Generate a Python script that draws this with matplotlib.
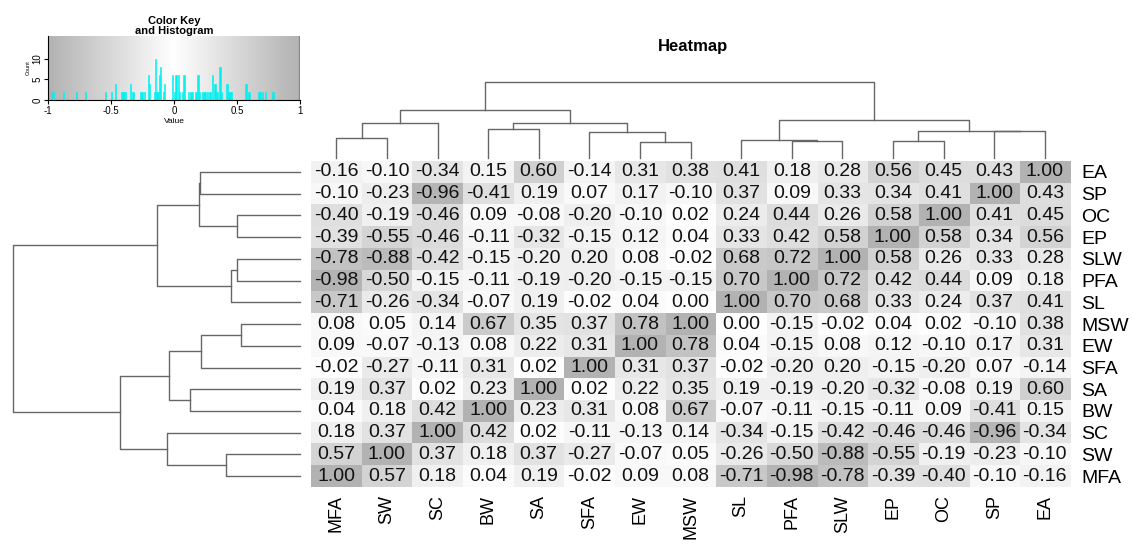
import matplotlib
matplotlib.use('Agg')
import matplotlib.pyplot as plt
import numpy as np
from matplotlib.colors import LinearSegmentedColormap

plt.rcParams['font.family'] = ['Liberation Sans', 'DejaVu Sans']

# column order (left to right) and row order (top to bottom)
col_labels = ['MFA', 'SW', 'SC', 'BW', 'SA', 'SFA', 'EW', 'MSW', 'SL', 'PFA', 'SLW', 'EP', 'OC', 'SP', 'EA']
row_labels = ['EA', 'SP', 'OC', 'EP', 'SLW', 'PFA', 'SL', 'MSW', 'EW', 'SFA', 'SA', 'BW', 'SC', 'SW', 'MFA']

corr = np.array([
    [-0.16, -0.10, -0.34, 0.15, 0.60, -0.14, 0.31, 0.38, 0.41, 0.18, 0.28, 0.56, 0.45, 0.43, 1.00],
    [-0.10, -0.23, -0.96, -0.41, 0.19, 0.07, 0.17, -0.10, 0.37, 0.09, 0.33, 0.34, 0.41, 1.00, 0.43],
    [-0.40, -0.19, -0.46, 0.09, -0.08, -0.20, -0.10, 0.02, 0.24, 0.44, 0.26, 0.58, 1.00, 0.41, 0.45],
    [-0.39, -0.55, -0.46, -0.11, -0.32, -0.15, 0.12, 0.04, 0.33, 0.42, 0.58, 1.00, 0.58, 0.34, 0.56],
    [-0.78, -0.88, -0.42, -0.15, -0.20, 0.20, 0.08, -0.02, 0.68, 0.72, 1.00, 0.58, 0.26, 0.33, 0.28],
    [-0.98, -0.50, -0.15, -0.11, -0.19, -0.20, -0.15, -0.15, 0.70, 1.00, 0.72, 0.42, 0.44, 0.09, 0.18],
    [-0.71, -0.26, -0.34, -0.07, 0.19, -0.02, 0.04, 0.00, 1.00, 0.70, 0.68, 0.33, 0.24, 0.37, 0.41],
    [0.08, 0.05, 0.14, 0.67, 0.35, 0.37, 0.78, 1.00, 0.00, -0.15, -0.02, 0.04, 0.02, -0.10, 0.38],
    [0.09, -0.07, -0.13, 0.08, 0.22, 0.31, 1.00, 0.78, 0.04, -0.15, 0.08, 0.12, -0.10, 0.17, 0.31],
    [-0.02, -0.27, -0.11, 0.31, 0.02, 1.00, 0.31, 0.37, -0.02, -0.20, 0.20, -0.15, -0.20, 0.07, -0.14],
    [0.19, 0.37, 0.02, 0.23, 1.00, 0.02, 0.22, 0.35, 0.19, -0.19, -0.20, -0.32, -0.08, 0.19, 0.60],
    [0.04, 0.18, 0.42, 1.00, 0.23, 0.31, 0.08, 0.67, -0.07, -0.11, -0.15, -0.11, 0.09, -0.41, 0.15],
    [0.18, 0.37, 1.00, 0.42, 0.02, -0.11, -0.13, 0.14, -0.34, -0.15, -0.42, -0.46, -0.46, -0.96, -0.34],
    [0.57, 1.00, 0.37, 0.18, 0.37, -0.27, -0.07, 0.05, -0.26, -0.50, -0.88, -0.55, -0.19, -0.23, -0.10],
    [1.00, 0.57, 0.18, 0.04, 0.19, -0.02, 0.09, 0.08, -0.71, -0.98, -0.78, -0.39, -0.40, -0.10, -0.16],
])

# hierarchical merges: (child a, child b, height); '#k' refers to merge k
merges = [
    ('SW', 'MFA', 0.258),
    ('SC', '#0', 0.465),
    ('EW', 'MSW', 0.207),
    ('SFA', '#2', 0.345),
    ('BW', 'SA', 0.384),
    ('#4', '#3', 0.456),
    ('#1', '#5', 0.626),
    ('PFA', 'SLW', 0.219),
    ('SL', '#7', 0.242),
    ('EP', 'OC', 0.219),
    ('SP', 'EA', 0.349),
    ('#9', '#10', 0.351),
    ('#8', '#11', 0.500),
    ('#6', '#12', 1.000),
]

key_ticks = [-1, -0.5, 0, 0.5, 1]
key_ticklabels = ['-1', '-0.5', '0', '0.5', '1']

gray_cmap = LinearSegmentedColormap.from_list('gw', ['#b2b2b2', '#ffffff', '#b2b2b2'])
line_col = '#666666'


def dendro_segments(leaf_pos):
    # returns list of U-shapes (pos_a, pos_b, h_a, h_b, h)
    pos = {}
    hgt = {}
    out = []
    for k, (a, b, h) in enumerate(merges):
        pa = pos[a] if a in pos else leaf_pos[a]
        pb = pos[b] if b in pos else leaf_pos[b]
        ha = hgt.get(a, 0.0)
        hb = hgt.get(b, 0.0)
        out.append((pa, pb, ha, hb, h))
        pos['#%d' % k] = (pa + pb) / 2
        hgt['#%d' % k] = h
    return out


fig = plt.figure(figsize=(11.33, 5.44), dpi=100)

# main heatmap
ax = fig.add_axes([0.2745, 0.1048, 0.670, 0.599])
ax.imshow(corr, cmap=gray_cmap, vmin=-1, vmax=1, aspect='auto', interpolation='nearest')
for i in range(len(row_labels)):
    for j in range(len(col_labels)):
        ax.text(j, i, '%.2f' % corr[i, j], ha='center', va='center', fontsize=14, color='#111111')
ax.set_xticks(range(len(col_labels)))
ax.set_xticklabels(col_labels, rotation=90, fontsize=13)
ax.set_yticks(range(len(row_labels)))
ax.set_yticklabels(row_labels, fontsize=14)
ax.yaxis.tick_right()
ax.tick_params(axis='y', length=0, pad=8)
ax.tick_params(axis='x', length=0, pad=6)
for s in ax.spines.values():
    s.set_visible(False)

# column dendrogram
axc = fig.add_axes([0.2745, 0.7096, 0.670, 0.14])
col_pos = {lab: i for i, lab in enumerate(col_labels)}
for pa, pb, ha, hb, h in dendro_segments(col_pos):
    axc.plot([pa, pa, pb, pb], [ha, h, h, hb], color=line_col, lw=1, clip_on=False)
axc.set_xlim(-0.5, len(col_labels) - 0.5)
axc.set_ylim(0, 1)
axc.axis('off')

# row dendrogram
axr = fig.add_axes([0.0115, 0.1048, 0.2533, 0.599])
row_pos = {lab: i for i, lab in enumerate(row_labels)}
for pa, pb, ha, hb, h in dendro_segments(row_pos):
    axr.plot([ha, h, h, hb], [pa, pa, pb, pb], color=line_col, lw=1, clip_on=False)
axr.set_ylim(len(row_labels) - 0.5, -0.5)
axr.set_xlim(1, 0)
axr.axis('off')

fig.text(0.612, 1 - 47 / 544, 'Heatmap', ha='center', va='center', fontsize=12, fontweight='bold')

# color key with histogram
axk = fig.add_axes([0.0424, 0.816, 0.2224, 0.118])
grad = np.linspace(-1, 1, 256).reshape(1, -1)
axk.imshow(grad, cmap=gray_cmap, vmin=-1, vmax=1, aspect='auto', extent=[-1, 1, 0, 15.5])
axk.hist(corr.ravel(), bins=np.linspace(-1, 1, 201), histtype='bar', rwidth=1.0,
         color='#00f0f0', edgecolor='#00f0f0', linewidth=0.4)
axk.axvline(1, color='#20b0b0', lw=1.5)
axk.set_xlim(-1, 1)
axk.set_ylim(0, 15.5)
axk.set_xticks(key_ticks)
axk.set_xticklabels(key_ticklabels, fontsize=7)
axk.set_yticks([0, 5, 10])
axk.set_yticklabels(['0', '5', '10'], fontsize=7, rotation=90, va='center')
axk.tick_params(length=3, pad=1)
axk.set_xlabel('Value', fontsize=6, labelpad=2)
axk.set_ylabel('Count', fontsize=4, labelpad=1)
axk.set_title('Color Key\nand Histogram', fontsize=8, fontweight='bold', pad=0, linespacing=1.0)
for s in ['top', 'right']:
    axk.spines[s].set_visible(False)

fig.savefig('out.png', dpi=100)
